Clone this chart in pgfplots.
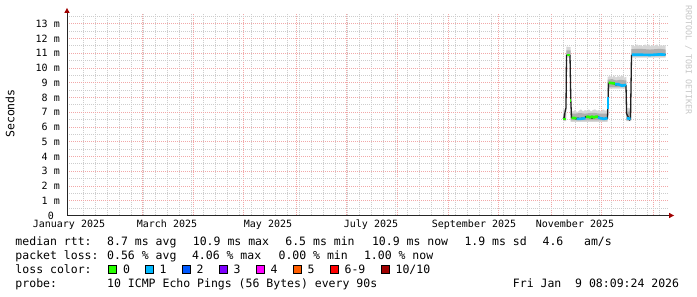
\documentclass[border=0pt]{standalone}
\usepackage{fontspec}
\setmainfont{DejaVu Sans Mono}
\usepackage{pgfplots}
\pgfplotsset{compat=1.18}
\definecolor{lzero}{HTML}{26FF00}
\definecolor{lone}{HTML}{00B8FF}
\definecolor{ltwo}{HTML}{0059FF}
\definecolor{lthree}{HTML}{7E00FF}
\definecolor{lfour}{HTML}{FF00FF}
\definecolor{lfive}{HTML}{FF5E00}
\definecolor{lsix}{HTML}{FF0000}
\definecolor{lten}{HTML}{A00000}
\definecolor{mgrid}{RGB}{242,168,168}
\definecolor{ngrid}{RGB}{205,205,205}
\definecolor{arrowred}{HTML}{A00000}
\definecolor{smokeA}{HTML}{D6D6D6}
\definecolor{smokeB}{HTML}{AEAEAE}
\definecolor{medline}{HTML}{202020}
\newcommand\tfont{\fontsize{10bp}{12bp}\selectfont}
\newcommand\lfont{\fontsize{11.5bp}{14bp}\selectfont}
\newcommand\T[3]{\node[anchor=base west, inner sep=0pt, font=\lfont] at (#1bp,#2bp) {#3};}
\newcommand\B[3]{\filldraw[fill=#3, draw=black, line width=0.8bp] (#1bp,23.5bp) rectangle (#2bp,31.5bp);}
\begin{document}
\begin{tikzpicture}
\path[use as bounding box] (0,0) rectangle (697bp,297bp);
\begin{axis}[
  scale only axis, width=601bp, height=201.5bp,
  at={(67bp,81.5bp)}, anchor=south west,
  xmin=67, xmax=668, ymin=0, ymax=13.66,
  axis line style={draw=none},
  major tick length=0pt, minor tick length=0pt,
  xtick={142.5,193.5,243.5,296.5,346.5,397.5,448.5,498.5,551.5,601.5,653.5},
  xticklabels={},
  minor xtick={83.5,95.5,...,667},
  extra x ticks={69,167,268,371,474,575},
  extra x tick labels={January 2025,March 2025,May 2025,July 2025,September 2025,November 2025},
  extra x tick style={grid=none, xticklabel style={anchor=base, yshift=-12.2bp, inner sep=0pt, font=\tfont}},
  ytick={0,1,...,13},
  yticklabels={0\ \ ,1 m,2 m,3 m,4 m,5 m,6 m,7 m,8 m,9 m,10 m,11 m,12 m,13 m},
  minor ytick={0.5,1.5,...,13.5},
  yticklabel style={anchor=east, inner sep=0pt, xshift=-7bp, font=\tfont},
  grid=both,
  major grid style={mgrid, dash pattern=on 1bp off 1bp, line width=0.9bp},
  minor grid style={ngrid, dash pattern=on 1bp off 1bp, line width=0.9bp},
]
% outer smoke (min..max of pings)
\addplot[draw=none, fill=smokeA] coordinates {
(563,7.2) (566.2,7.2) (566.3,11.45) (570.5,11.42) (570.6,7.1) (573,7.05) (575,7.15) (577,7.0) (579,7.1) (581,7.2)
(583,7.05) (585,7.15) (587,7.1) (589,7.2) (591,7.05) (593,7.15) (595,7.2) (597,7.1) (599,7.15) (601,7.05)
(603,7.2) (605,7.1) (607.6,7.15) (607.7,9.4) (610,9.45) (612,9.35) (614,9.5) (616,9.35) (618,9.45) (620,9.4)
(622,9.5) (624,9.35) (626.3,9.4) (626.4,7.3) (631.2,7.3) (631.3,11.5) (633,11.55) (635,11.45) (637,11.6)
(639,11.5) (641,11.55) (643,11.45) (645,11.6) (647,11.5) (649,11.6) (651,11.45) (653,11.55) (655,11.5)
(657,11.6) (659,11.45) (661,11.55) (663,11.5) (665.5,11.55)
(665.5,10.7) (631.3,10.7) (631.2,6.4) (626.4,6.4) (626.3,8.6) (607.7,8.6) (607.6,6.35) (570.6,6.35)
(570.5,10.7) (566.3,10.7) (566.2,6.4) (563,6.4)
} -- cycle;
% inner smoke
\addplot[draw=none, fill=smokeB] coordinates {
(563,6.9) (566.2,6.9) (566.3,11.2) (570.5,11.2) (570.6,6.9) (575,6.9) (580,6.95) (585,6.9) (590,6.95)
(595,6.95) (600,6.9) (607.6,6.9) (607.7,9.2) (612,9.25) (616,9.15) (620,9.2) (626.3,9.15) (626.4,7.05)
(631.2,7.05) (631.3,11.28) (640,11.3) (650,11.25) (660,11.3) (665.5,11.25)
(665.5,10.8) (631.3,10.8) (631.2,6.45) (626.4,6.45) (626.3,8.7) (607.7,8.7) (607.6,6.45) (570.6,6.45)
(570.5,10.8) (566.3,10.8) (566.2,6.45) (563,6.45)
} -- cycle;
% median rtt
\addplot[medline, line width=1.3bp] coordinates {
(563,6.55) (564,6.6) (565,7.0) (566,7.3) (566.5,10.85) (568,10.9) (570,10.85) (570.8,7.8) (571.5,6.65)
(574,6.6) (576,6.55) (578,6.6) (580,6.55) (582,6.6) (584,6.6) (586,6.7) (588,6.65) (590,6.7) (592,6.6)
(594,6.7) (596,6.65) (598,6.7) (600,6.6) (602,6.6) (604,6.55) (606,6.6) (607.5,6.6) (608,7.6) (608.5,8.95)
(610,9.0) (612,8.95) (614,8.95) (616,8.85) (618,8.9) (620,8.85) (622,8.8) (624,8.85) (626,8.8) (626.6,6.9)
(628,6.7) (629.5,6.5) (630.5,6.6) (631.5,10.85) (634,10.9) (640,10.9) (650,10.88) (660,10.92) (665.5,10.9)
};
% loss colour: 0
\addplot[lzero, line width=2.6bp] coordinates {(563,6.55) (565.5,6.55)};
\addplot[lzero, line width=2.6bp] coordinates {(566.5,10.88) (570.2,10.88)};
\addplot[lzero, line width=2.6bp] coordinates {(570.3,7.8) (571.1,7.8)};
\addplot[lzero, line width=2.6bp] coordinates {(571.5,6.62) (576.5,6.6)};
\addplot[lzero, line width=2.6bp] coordinates {(586,6.68) (588,6.7) (590,6.65) (592,6.7) (594,6.65) (596,6.7) (598,6.7)};
\addplot[lzero, line width=2.6bp] coordinates {(608.7,9.0) (615,8.95)};
% loss colour: 1
\addplot[lone, line width=2.6bp] coordinates {(576.5,6.55) (580,6.55) (585.5,6.6)};
\addplot[lone, line width=2.6bp] coordinates {(598,6.65) (600,6.6) (604,6.55) (607.5,6.6)};
\addplot[lone, line width=2.6bp] coordinates {(607.8,7.2) (607.8,8.0)};
\addplot[lone, line width=2.6bp] coordinates {(615,8.9) (618,8.9) (620,8.85) (622,8.8) (626.3,8.85)};
\addplot[lone, line width=2.6bp] coordinates {(626.8,6.6) (630.5,6.55)};
\addplot[lone, line width=2.6bp] coordinates {(631.8,10.9) (640,10.9) (650,10.88) (660,10.92) (665.5,10.9)};
\end{axis}
% axes with arrows
\draw[black!85, line width=1bp] (67bp,81.5bp) -- (67bp,284.3bp);
\fill[arrowred] (64.3bp,284bp) -- (69.7bp,284bp) -- (67bp,289bp) -- cycle;
\draw[black!85, line width=1bp] (67bp,81.5bp) -- (669.5bp,81.5bp);
\fill[arrowred] (669bp,84.2bp) -- (669bp,78.8bp) -- (674bp,81.5bp) -- cycle;
% titles
\node[rotate=90, font=\lfont, inner sep=0pt] at (10bp,183.5bp) {Seconds};
\node[rotate=-90, font=\fontsize{8.3bp}{10bp}\selectfont, text=gray!45, inner sep=0pt] at (688.5bp,237bp) {RRDTOOL / TOBI OETIKER};
% legend
\T{15.3}{51.5}{median rtt:}
\T{107}{51.5}{8.7 ms avg}
\T{192.7}{51.5}{10.9 ms max}
\T{285.2}{51.5}{6.5 ms min}
\T{371.8}{51.5}{10.9 ms now}
\T{464.3}{51.5}{1.9 ms sd}
\T{542.4}{51.5}{4.6\ \ \ am/s}
\T{15.3}{37.7}{packet loss:}
\T{107}{37.7}{0.56 \% avg}
\T{191.8}{37.7}{4.06 \% max}
\T{278.4}{37.7}{0.00 \% min}
\T{363.8}{37.7}{1.00 \% now}
\T{15.3}{23.7}{loss color:}
\B{108}{116}{lzero}   \T{122.9}{23.7}{0}
\B{145.3}{153.3}{lone}  \T{159.4}{23.7}{1}
\B{182.2}{190.2}{ltwo}  \T{196.3}{23.7}{2}
\B{219}{227}{lthree}   \T{233.4}{23.7}{3}
\B{256.4}{264.4}{lfour} \T{270.4}{23.7}{4}
\B{293.3}{301.3}{lfive} \T{307.4}{23.7}{5}
\B{330}{338}{lsix}     \T{344.4}{23.7}{6-9}
\B{381.8}{389.8}{lten} \T{395.4}{23.7}{10/10}
\T{15.3}{9.7}{probe:}
\T{107}{9.7}{10 ICMP Echo Pings (56 Bytes) every 90s}
\T{512.7}{9.7}{Fri Jan\ \ 9 08:09:24 2026}
\end{tikzpicture}
\end{document}
